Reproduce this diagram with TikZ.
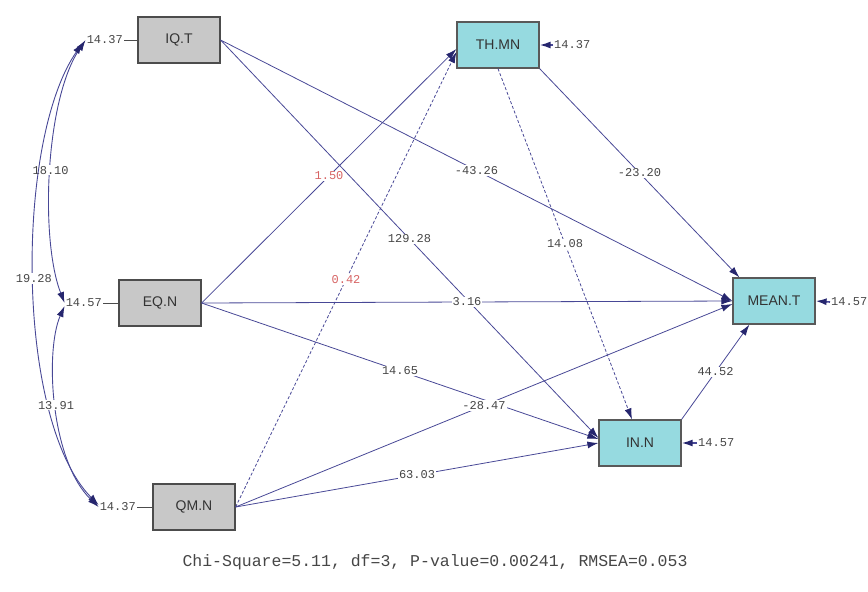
\documentclass[tikz,border=0pt]{standalone}
\usepackage{fontspec}
\setmainfont{Liberation Sans}
\newfontfamily\monof{Liberation Mono}
\usetikzlibrary{arrows.meta,calc}
\definecolor{lin}{RGB}{72,72,150}
\definecolor{tipc}{RGB}{38,38,110}
\definecolor{gbox}{RGB}{200,200,200}
\definecolor{cbox}{RGB}{150,218,224}
\definecolor{redlab}{RGB}{215,100,100}
\definecolor{txt}{RGB}{70,70,70}
\begin{document}
\begin{tikzpicture}[x=1pt,y=-1pt,
  exo/.style={draw=black!70,line width=1.2pt,fill=gbox,minimum width=82pt,minimum height=46pt,inner sep=0pt,font=\fontsize{14}{14}\selectfont,text=black!80},
  endo/.style={exo,fill=cbox,draw=black!65},
  num/.style={font=\monof\fontsize{12}{12}\selectfont,text=txt,inner sep=1pt},
  plab/.style={num,fill=white,midway},
  rlab/.style={plab,text=redlab},
  pth/.style={draw=lin,line width=0.8pt,-{Latex[length=11pt,width=7pt,color=tipc]}},
  cov/.style={draw=lin,line width=0.9pt,{Latex[length=11pt,width=7pt,color=tipc]}-{Latex[length=11pt,width=7pt,color=tipc]}},
  errln/.style={draw=black!70,line width=0.8pt}
]
\useasboundingbox (0,0) rectangle (868,592);

% boxes
\node[exo] (iq) at (179,40) {IQ.T};
\node[exo] (eq) at (160,303) {EQ.N};
\node[exo] (qm) at (194,507) {QM.N};
\node[endo] (th) at (498,45) {TH.MN};
\node[endo] (meant) at (774,301) {MEAN.T};
\node[endo] (inn) at (640,443) {IN.N};

% error terms
\node[num,anchor=east] (e1) at (124,40) {14.37};
\draw[errln] (e1.east) -- (iq.west);
\node[num,anchor=east] (e2) at (103,303) {14.57};
\draw[errln] (e2.east) -- (eq.west);
\node[num,anchor=east] (e3) at (137,507) {14.37};
\draw[errln] (e3.east) -- (qm.west);
\node[num,anchor=west] (e4) at (553,45) {14.37};
\draw[pth,line width=1.6pt] (e4.west) -- (th.east);
\node[num,anchor=west] (e5) at (830,302) {14.57};
\draw[pth,line width=1.6pt] (e5.west) -- (meant.east);
\node[num,anchor=west] (e6) at (697,443) {14.57};
\draw[pth,line width=1.6pt] (e6.west) -- (inn.east);

% covariances
\draw[cov] (e1.west) .. controls (45,100) and (40,240) .. (e2.west)
  node[pos=0.5,num,fill=white] (c1) {18.10};
\draw[cov] ($(e1.west)+(-3,3)$) .. controls (15,140) and (15,420) .. ($(e3.west)+(0,-2)$)
  node[pos=0.5,num,fill=white] (c2) {19.28};
\draw[cov] ($(e2.west)+(0,3)$) .. controls (45,350) and (50,460) .. (e3.west)
  node[pos=0.5,num,fill=white] (c3) {13.91};

% paths
\draw[pth] (iq.east) -- node[plab] (l1) {-43.26} (meant.west);
\draw[pth] (iq.east) -- node[plab] (l2) {129.28} ($(inn.west)+(0,-5)$);
\draw[pth] (eq.east) -- node[rlab] (l3) {1.50} ($(th.west)+(0,4)$);
\draw[pth,densely dashed] (qm.east) -- node[rlab] (l4) {0.42} ($(th.west)+(0,7)$);
\draw[pth] (eq.east) -- node[plab] (l5) {3.16} (meant.west);
\draw[pth] (eq.east) -- node[plab] (l6) {14.65} ($(inn.west)+(0,-4)$);
\draw[pth] (qm.east) -- node[plab] (l7) {-28.47} ($(meant.west)+(0,3)$);
\draw[pth] (qm.east) -- node[plab] (l8) {63.03} (inn.west);
\draw[pth] (th.south east) -- node[plab] (l9) {-23.20} ($(meant.north west)+(7,0)$);
\draw[pth,densely dashed] (th.south) -- node[plab] (l10) {14.08} ($(inn.north)+(-8,0)$);
\draw[pth] (inn.north east) -- node[plab] (l11) {44.52} ($(meant.south west)+(17,0)$);

% fit statistics
\node[font=\monof\fontsize{16.5}{17}\selectfont,text=txt] (fit) at (435,562)
  {Chi-Square=5.11, df=3, P-value=0.00241, RMSEA=0.053};
\end{tikzpicture}
\end{document}
